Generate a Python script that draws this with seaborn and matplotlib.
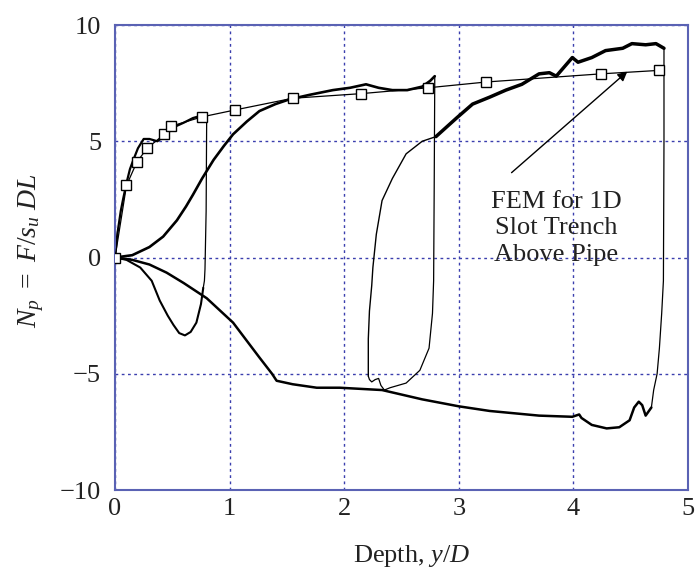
import matplotlib
matplotlib.use("Agg")
import matplotlib.pyplot as plt
import seaborn as sns
import pandas as pd

# ---- data ----
# first push: (0,0) up to ~6.2 at y/D = 0.8
push1_x = [0, 0.02, 0.05, 0.07, 0.10, 0.13, 0.16, 0.20, 0.25, 0.30, 0.37, 0.45, 0.51, 0.60, 0.68, 0.75, 0.80]
push1_y = [0, 1.0, 2.0, 2.5, 3.2, 3.8, 4.2, 4.7, 5.1, 5.1, 5.0, 5.3, 5.6, 5.8, 6.0, 6.1, 6.2]
# unload at 0.8
drop1_x = [0.80, 0.795, 0.785, 0.78, 0.77]
drop1_y = [6.2, 2.0, -0.5, -1.0, -1.3]
# reverse loop back to origin
loop_x = [0.77, 0.75, 0.71, 0.66, 0.61, 0.56, 0.51, 0.46, 0.39, 0.32, 0.22, 0.10, 0.0]
loop_y = [-1.3, -2.0, -2.8, -3.2, -3.35, -3.25, -2.9, -2.5, -1.85, -1.0, -0.43, -0.1, 0]
# second push: S-curve to 7.8 at 2.8
push2_x = [0, 0.15, 0.30, 0.42, 0.54, 0.62, 0.68, 0.76, 0.86, 0.95, 1.03, 1.15, 1.26, 1.40,
           1.52, 1.70, 1.90, 2.05, 2.19, 2.30, 2.42, 2.55, 2.68, 2.75, 2.79]
push2_y = [0, 0.1, 0.45, 0.9, 1.6, 2.2, 2.7, 3.4, 4.2, 4.8, 5.3, 5.85, 6.3, 6.6,
           6.8, 7.0, 7.2, 7.3, 7.45, 7.3, 7.2, 7.2, 7.35, 7.6, 7.8]
# unload at 2.8 and pull back to 2.2
drop2_x = [2.79, 2.785, 2.78, 2.77, 2.74, 2.66, 2.54, 2.40, 2.35, 2.32, 2.30, 2.27, 2.24, 2.22, 2.21]
drop2_y = [7.8, 3.0, -1.0, -2.4, -3.9, -4.85, -5.4, -5.6, -5.7, -5.5, -5.2, -5.25, -5.35, -5.25, -5.1]
# third push from 2.2 up to ~9.2 at 4.8
push3_x = [2.21, 2.21, 2.22, 2.24, 2.25, 2.28, 2.33, 2.42, 2.54, 2.68, 2.80, 2.98, 3.12, 3.27,
           3.41, 3.55, 3.70, 3.79, 3.85, 3.99, 4.04, 4.16, 4.28, 4.43, 4.51, 4.63, 4.72, 4.79]
push3_y = [-5.1, -3.5, -2.3, -1.2, -0.43, 1.0, 2.45, 3.4, 4.46, 5.0, 5.2, 6.0, 6.6, 6.9,
           7.2, 7.45, 7.9, 7.95, 7.8, 8.6, 8.4, 8.6, 8.9, 9.0, 9.2, 9.15, 9.2, 9.0]
# unload at 4.8
drop3_x = [4.79, 4.79, 4.785, 4.77, 4.75, 4.73, 4.70, 4.68]
drop3_y = [9.0, 5.0, -1.0, -2.4, -3.9, -5.0, -5.7, -6.45]
# pull back to origin
pull_x = [4.68, 4.63, 4.60, 4.57, 4.53, 4.49, 4.40, 4.29, 4.16, 4.07, 4.05, 3.99, 3.70, 3.27,
          3.00, 2.68, 2.33, 1.96, 1.76, 1.55, 1.41, 1.37, 1.26, 1.03, 0.80, 0.60, 0.45, 0.30, 0.15, 0]
pull_y = [-6.45, -6.8, -6.35, -6.2, -6.45, -7.0, -7.3, -7.35, -7.2, -6.9, -6.75, -6.85, -6.8, -6.6,
          -6.4, -6.1, -5.7, -5.6, -5.6, -5.45, -5.3, -5.0, -4.3, -2.8, -1.75, -1.1, -0.65, -0.3, -0.1, 0]
# FEM prediction for 1D slot trench above pipe
fem_x = [0, 0.10, 0.19, 0.28, 0.43, 0.49, 0.76, 1.05, 1.55, 2.15, 2.73, 3.24, 4.24, 4.75]
fem_y = [0, 3.1, 4.1, 4.7, 5.3, 5.65, 6.05, 6.35, 6.85, 7.05, 7.3, 7.55, 7.9, 8.05]

x_ticks = [0, 1, 2, 3, 4, 5]
y_ticks = [-10, -5, 0, 5, 10]
y_tick_labels = ["\u221210", "\u22125", "0", "5", "10"]

# ---- style ----
sns.set_theme(style="white")
plt.rcParams["font.family"] = ["Liberation Serif", "DejaVu Serif"]
plt.rcParams["mathtext.fontset"] = "custom"
plt.rcParams["mathtext.rm"] = "Liberation Serif"
plt.rcParams["mathtext.it"] = "Liberation Serif:italic"

spine_col = "#5a62b4"
grid_col = "#3b3fae"
text_col = "#222222"

fig = plt.figure(figsize=(6.95, 5.74), dpi=100)
ax = fig.add_axes([0.1655, 0.1463, 0.8245, 0.8101])

def seg(x, y, lw):
    df = pd.DataFrame({"x": x, "y": y})
    sns.lineplot(data=df, x="x", y="y", sort=False, estimator=None, color="black",
                 linewidth=lw, ax=ax)

seg(push1_x, push1_y, 1.6)
seg(drop1_x, drop1_y, 0.9)
seg(loop_x, loop_y, 1.5)
seg(push2_x, push2_y, 1.9)
seg(drop2_x, drop2_y, 0.9)
seg(push3_x[:11], push3_y[:11], 1.0)
seg(push3_x[10:], push3_y[10:], 2.5)
seg(drop3_x, drop3_y, 0.9)
seg(pull_x, pull_y, 1.8)

fem = pd.DataFrame({"x": fem_x, "y": fem_y})
sns.lineplot(data=fem, x="x", y="y", sort=False, estimator=None, color="black",
             linewidth=0.9, marker="s", markersize=7, markerfacecolor="white",
             markeredgecolor="black", markeredgewidth=1.0, ax=ax, zorder=5)

ax.annotate("", xy=(4.47, 8.0), xytext=(3.46, 3.65),
            arrowprops=dict(arrowstyle="-|>", color="black", lw=1.0,
                            mutation_scale=14, shrinkA=0, shrinkB=0))
ax.text(3.85, 1.25, "FEM for 1D\nSlot Trench\nAbove Pipe", ha="center", va="center",
        fontsize=19, linespacing=1.25, color=text_col)

ax.set_xlim(0, 5)
ax.set_ylim(-10, 10)
ax.set_xticks(x_ticks)
ax.set_xticklabels([str(t) for t in x_ticks])
ax.set_yticks(y_ticks)
ax.set_yticklabels(y_tick_labels)
ax.tick_params(axis="both", length=0, labelsize=19, colors=text_col)
ax.tick_params(axis="x", pad=6)
ax.tick_params(axis="y", pad=10)
ax.grid(True, color=grid_col, linestyle=(0, (2, 2.5)), linewidth=1.0)
for s in ax.spines.values():
    s.set_color(spine_col)
    s.set_linewidth(1.5)

ax.set_xlabel("Depth, $y/D$", fontsize=19, color=text_col)
ax.set_ylabel(r"$N_p\ =\ F/s_u\ DL$", fontsize=20, color=text_col)
ax.xaxis.set_label_coords(0.518, -0.115)
ax.yaxis.set_label_coords(-0.12, 0.515)

fig.savefig("out.png", dpi=100)
